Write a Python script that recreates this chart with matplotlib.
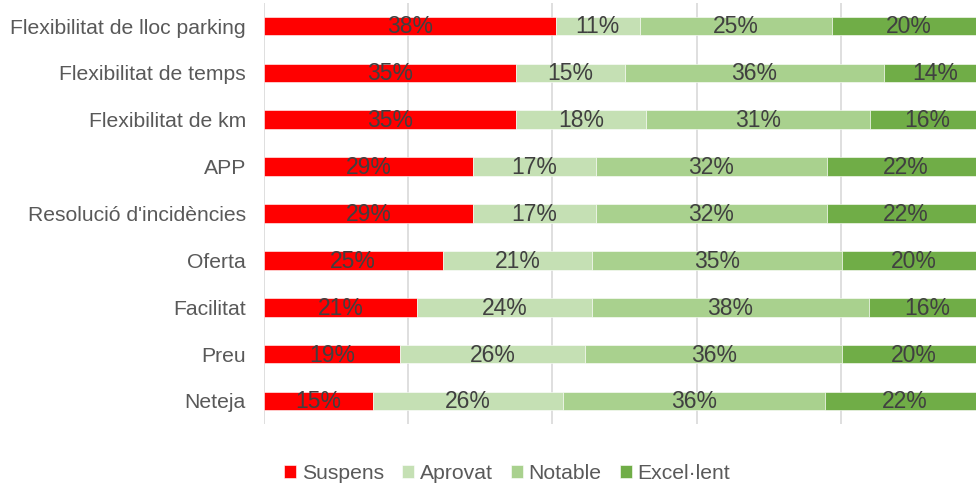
import matplotlib.pyplot as plt
import numpy as np

plt.rcParams['font.family'] = ['Liberation Sans', 'DejaVu Sans']

# dades (percentatges de cada valoració)
categories = ['Flexibilitat de lloc parking', 'Flexibilitat de temps', 'Flexibilitat de km',
              'APP', "Resolució d'incidències", 'Oferta', 'Facilitat', 'Preu', 'Neteja']
suspens = [38, 35, 35, 29, 29, 25, 21, 19, 15]
aprovat = [11, 15, 18, 17, 17, 21, 24, 26, 26]
notable = [25, 36, 31, 32, 32, 35, 38, 36, 36]
excellent = [20, 14, 16, 22, 22, 20, 16, 20, 22]

series = ['Suspens', 'Aprovat', 'Notable', 'Excel·lent']
colors = ['#FF0000', '#C5E0B4', '#A9D18E', '#70AD47']

vals = np.array([suspens, aprovat, notable, excellent], dtype=float)
totals = vals.sum(axis=0)
pct = vals / totals * 100  # barres al 100%

fig = plt.figure(figsize=(9.76, 4.86), dpi=100)
ax = fig.add_axes([0.2705, 0.1267, 0.7295, 0.868])

y = np.arange(len(categories))
left = np.zeros(len(categories))
for i in range(4):
    ax.barh(y, pct[i], left=left, height=0.4, color=colors[i], label=series[i],
            edgecolor='white', linewidth=0.4, zorder=2)
    for j in range(len(categories)):
        ax.text(left[j] + pct[i][j] / 2, y[j] + 0.02, '{:.0f}%'.format(vals[i][j]),
                ha='center', va='center', fontsize=16.5, color='#404040', zorder=3)
    left = left + pct[i]

ax.set_xlim(0, 98.72)
ax.set_ylim(len(categories) - 0.5, -0.5)
ax.set_xticks([0, 20, 40, 60, 80])
ax.set_xticklabels([])
ax.tick_params(axis='x', length=0)
ax.tick_params(axis='y', length=0, pad=13, labelsize=15.2, labelcolor='#595959')
ax.set_yticks(y)
ax.set_yticklabels(categories)
ax.grid(axis='x', color='#D9D9D9', linewidth=1.2, zorder=0)
for s in ax.spines.values():
    s.set_visible(False)

fig.legend(loc='center', bbox_to_anchor=(0.5195, 0.026), ncol=4, frameon=False,
           fontsize=15.2, labelcolor='#595959', handlelength=0.6, handleheight=0.6,
           handletextpad=0.25, columnspacing=0.85)

plt.savefig('out.png', dpi=100)
